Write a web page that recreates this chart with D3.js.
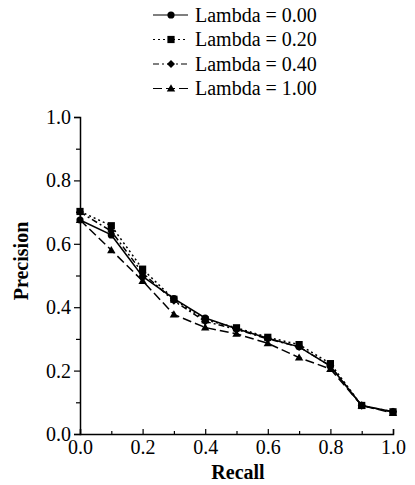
<!DOCTYPE html>
<html>
<head>
<meta charset="utf-8">
<script src="https://cdn.jsdelivr.net/npm/d3@7"></script>
<style>
  body { margin: 0; background: #fff; }
  svg text { font-family: "Liberation Serif", "DejaVu Serif", serif; fill: #000; }
</style>
</head>
<body>
<div id="chart"></div>
<script>
// recall points on x axis
var recall = [0.0, 0.1, 0.2, 0.3, 0.4, 0.5, 0.6, 0.7, 0.8, 0.9, 1.0];

var lambda000 = [0.675, 0.628, 0.497, 0.427, 0.366, 0.332, 0.302, 0.275, 0.214, 0.09, 0.07];
var lambda020 = [0.702, 0.657, 0.52, 0.425, 0.36, 0.335, 0.305, 0.282, 0.222, 0.09, 0.07];
var lambda040 = [0.70, 0.64, 0.508, 0.42, 0.355, 0.33, 0.30, 0.275, 0.215, 0.089, 0.07];
var lambda100 = [0.675, 0.58, 0.483, 0.377, 0.336, 0.316, 0.286, 0.241, 0.205, 0.09, 0.066];

var seriesNames = ["Lambda = 0.00", "Lambda = 0.20", "Lambda = 0.40", "Lambda = 1.00"];
var yTicks = [0.0, 0.2, 0.4, 0.6, 0.8, 1.0];
var xTicks = [0.0, 0.2, 0.4, 0.6, 0.8, 1.0];

var W = 415, H = 485;
var margin = { left: 80, right: 22, top: 117, bottom: 51 };

var svg = d3.select("#chart").append("svg")
    .attr("width", W)
    .attr("height", H);

var x = d3.scaleLinear().domain([0, 1]).range([margin.left, W - margin.right]);
var y = d3.scaleLinear().domain([0, 1]).range([H - margin.bottom, margin.top]);

var styles = [
    { dash: null, marker: "circle" },
    { dash: "2,3", marker: "square" },
    { dash: "6,3,2,3", marker: "diamond" },
    { dash: "9,4", marker: "triangle" }
];
var allSeries = [lambda000, lambda020, lambda040, lambda100];

// axes
var yAxis = d3.axisLeft(y).tickValues(yTicks).tickFormat(d3.format(".1f")).tickSize(6).tickPadding(3);
var xAxis = d3.axisBottom(x).tickValues(xTicks).tickFormat(d3.format(".1f")).tickSize(-5).tickPadding(6);

var gy = svg.append("g").attr("transform", "translate(" + margin.left + ",0)").call(yAxis);
var gx = svg.append("g").attr("transform", "translate(0," + (H - margin.bottom) + ")").call(xAxis);

// minor ticks
svg.append("g").attr("transform", "translate(" + margin.left + ",0)")
    .call(d3.axisLeft(y).tickValues(d3.range(0.1, 1, 0.2)).tickFormat("").tickSize(4))
    .select(".domain").remove();
svg.append("g").attr("transform", "translate(0," + (H - margin.bottom) + ")")
    .call(d3.axisBottom(x).tickValues(d3.range(0.1, 1, 0.2)).tickFormat("").tickSize(-3))
    .select(".domain").remove();

svg.selectAll(".domain").attr("stroke", "#000").attr("stroke-width", 1.5);
svg.selectAll(".tick line").attr("stroke", "#000").attr("stroke-width", 1.2);
gy.selectAll("text").style("font-size", "20px");
gx.selectAll("text").style("font-size", "20px");

// axis titles
svg.append("text")
    .attr("x", 238)
    .attr("y", 479)
    .attr("text-anchor", "middle")
    .style("font-size", "20px")
    .style("font-weight", "bold")
    .text("Recall");

svg.append("text")
    .attr("transform", "translate(28,261)rotate(-90)")
    .attr("text-anchor", "middle")
    .style("font-size", "20px")
    .style("font-weight", "bold")
    .text("Precision");

var line = d3.line()
    .x(function (d, i) { return x(recall[i]); })
    .y(function (d) { return y(d); });

function drawMarker(g, type, cx, cy) {
    if (type === "circle") {
        g.append("circle").attr("cx", cx).attr("cy", cy).attr("r", 3.6).attr("fill", "#000");
    } else if (type === "square") {
        g.append("rect").attr("x", cx - 3.6).attr("y", cy - 3.6).attr("width", 7.2).attr("height", 7.2).attr("fill", "#000");
    } else if (type === "diamond") {
        g.append("path").attr("d", "M" + cx + "," + (cy - 4) + "L" + (cx + 4) + "," + cy + "L" + cx + "," + (cy + 4) + "L" + (cx - 4) + "," + cy + "Z").attr("fill", "#000");
    } else {
        g.append("path").attr("d", "M" + cx + "," + (cy - 4.2) + "L" + (cx + 4.2) + "," + (cy + 3) + "L" + (cx - 4.2) + "," + (cy + 3) + "Z").attr("fill", "#000");
    }
}

var plot = svg.append("g");
allSeries.forEach(function (vals, k) {
    plot.append("path")
        .datum(vals)
        .attr("d", line)
        .attr("fill", "none")
        .attr("stroke", "#000")
        .attr("stroke-width", 1.5)
        .attr("stroke-dasharray", styles[k].dash);
    vals.forEach(function (v, i) {
        drawMarker(plot, styles[k].marker, x(recall[i]), y(v));
    });
});

// legend
var legend = svg.append("g");
seriesNames.forEach(function (name, k) {
    var ly = 15 + k * 24.5;
    legend.append("line")
        .attr("x1", 153).attr("x2", 188)
        .attr("y1", ly).attr("y2", ly)
        .attr("stroke", "#000")
        .attr("stroke-width", 1.2)
        .attr("stroke-dasharray", styles[k].dash);
    drawMarker(legend, styles[k].marker, 171, ly);
    legend.append("text")
        .attr("x", 195)
        .attr("y", ly + 6.5)
        .style("font-size", "20px")
        .text(name);
});
</script>
</body>
</html>
